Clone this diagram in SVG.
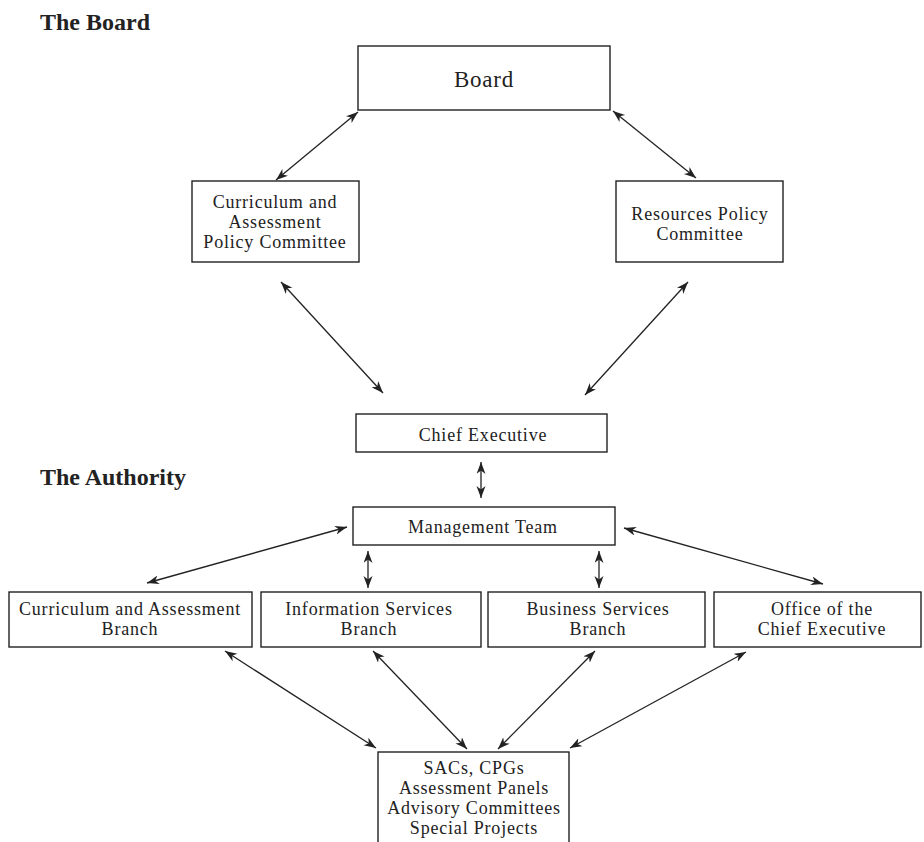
<svg xmlns="http://www.w3.org/2000/svg" width="924" height="842" viewBox="0 0 924 842">
<style>
  .box { fill: #fff; stroke: #222; stroke-width: 1.4; }
  .t { font-family: "Liberation Serif", "Times New Roman", serif; font-size: 18px; letter-spacing: 0.8px; fill: #222; text-anchor: middle; }
  .h { font-family: "Liberation Serif", "Times New Roman", serif; font-size: 24px; font-weight: bold; fill: #222; }
  .c { stroke: #222; stroke-width: 1.3; fill: none; marker-start: url(#ah); marker-end: url(#ah); }
</style>
<defs>
  <marker id="ah" markerUnits="userSpaceOnUse" markerWidth="14" markerHeight="10" refX="12" refY="4.5" orient="auto-start-reverse">
    <path d="M0,0 L12,4.5 L0,9 L3.5,4.5 z" fill="#222"/>
  </marker>
</defs>
<rect width="924" height="842" fill="#fff"/>

<text class="h" x="40" y="30">The Board</text>
<text class="h" x="40" y="485">The Authority</text>

<g id="connectors">
  <line class="c" x1="358" y1="112" x2="276" y2="180"/>
  <line class="c" x1="613" y1="111" x2="696" y2="178"/>
  <line class="c" x1="281" y1="282" x2="383" y2="393"/>
  <line class="c" x1="688" y1="282" x2="585" y2="395"/>
  <line class="c" x1="481" y1="462" x2="481" y2="498"/>
  <line class="c" x1="347" y1="527" x2="147" y2="583"/>
  <line class="c" x1="624" y1="528" x2="823" y2="584"/>
  <line class="c" x1="368" y1="551" x2="368" y2="588"/>
  <line class="c" x1="599" y1="551" x2="599" y2="588"/>
  <line class="c" x1="225" y1="651" x2="376" y2="748"/>
  <line class="c" x1="373" y1="651" x2="467" y2="749"/>
  <line class="c" x1="595" y1="651" x2="498" y2="749"/>
  <line class="c" x1="746" y1="652" x2="570" y2="748"/>
</g>

<g id="board">
  <rect class="box" x="358" y="46" width="252" height="64"/>
  <text class="t" x="484" y="87" style="font-size:23px">Board</text>
</g>
<g id="capc">
  <rect class="box" x="192" y="181" width="167" height="81"/>
  <text class="t" x="275" y="208">Curriculum and</text>
  <text class="t" x="275" y="228">Assessment</text>
  <text class="t" x="275" y="248">Policy Committee</text>
</g>
<g id="rpc">
  <rect class="box" x="616" y="181" width="167" height="81"/>
  <text class="t" x="700" y="220">Resources Policy</text>
  <text class="t" x="700" y="240">Committee</text>
</g>
<g id="ce">
  <rect class="box" x="356" y="414" width="251" height="38"/>
  <text class="t" x="483" y="441">Chief Executive</text>
</g>
<g id="mt">
  <rect class="box" x="353" y="507" width="262" height="38"/>
  <text class="t" x="483" y="533">Management Team</text>
</g>
<g id="cab">
  <rect class="box" x="9" y="592" width="243" height="55"/>
  <text class="t" x="130" y="615">Curriculum and Assessment</text>
  <text class="t" x="130" y="635">Branch</text>
</g>
<g id="isb">
  <rect class="box" x="261" y="592" width="220" height="55"/>
  <text class="t" x="369" y="615">Information Services</text>
  <text class="t" x="369" y="635">Branch</text>
</g>
<g id="bsb">
  <rect class="box" x="488" y="592" width="217" height="55"/>
  <text class="t" x="598" y="615">Business Services</text>
  <text class="t" x="598" y="635">Branch</text>
</g>
<g id="oce">
  <rect class="box" x="714" y="592" width="207" height="55"/>
  <text class="t" x="822" y="615">Office of the</text>
  <text class="t" x="822" y="635">Chief Executive</text>
</g>
<g id="sac">
  <rect class="box" x="378" y="752" width="191" height="100"/>
  <text class="t" x="474" y="774">SACs, CPGs</text>
  <text class="t" x="474" y="794">Assessment Panels</text>
  <text class="t" x="474" y="814">Advisory Committees</text>
  <text class="t" x="474" y="834">Special Projects</text>
</g>
</svg>
